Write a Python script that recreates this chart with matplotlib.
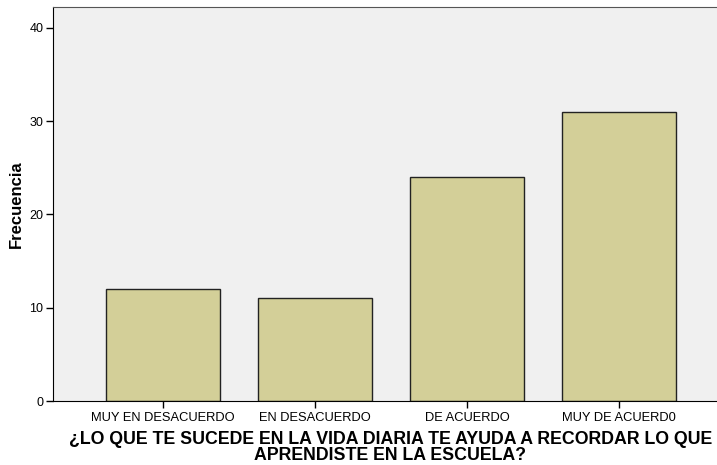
import matplotlib
matplotlib.use("Agg")
import matplotlib.pyplot as plt

categories = ['MUY EN DESACUERDO', 'EN DESACUERDO', 'DE ACUERDO', 'MUY DE ACUERD0']
frecuencia = [12, 11, 24, 31]
yticks = [0, 10, 20, 30, 40]

plt.rcParams['font.family'] = ['Liberation Sans', 'DejaVu Sans']

fig = plt.figure(figsize=(7.17, 4.65), dpi=100)
ax = fig.add_axes([0.0739, 0.1376, 0.9261, 0.848])
ax.set_facecolor('#F0F0F0')

pos = list(range(len(categories)))
ax.bar(pos, frecuencia, width=0.75, color='#D3CF98', edgecolor='#222222', linewidth=1.0, zorder=2)

ax.set_xlim(-0.724, 3.644)
ax.set_ylim(0, 42.25)
ax.set_yticks(yticks)
ax.set_xticks(pos)
ax.set_xticklabels(categories, fontsize=9.3)
ax.tick_params(axis='y', labelsize=9, length=5, width=1, direction='out', pad=2)
ax.tick_params(axis='x', length=5, width=1, direction='out', pad=3)

ax.spines['right'].set_visible(False)
ax.spines['top'].set_color('#555555')
ax.spines['left'].set_color('black')
ax.spines['bottom'].set_color('black')

ax.set_ylabel('Frecuencia', fontsize=12, fontweight='bold')
ax.yaxis.set_label_coords(-0.044, 0.5)
ax.set_xlabel('¿LO QUE TE SUCEDE EN LA VIDA DIARIA TE AYUDA A RECORDAR LO QUE\nAPRENDISTE EN LA ESCUELA?',
              fontsize=12.8, fontweight='bold', linespacing=0.88)
ax.xaxis.set_label_coords(0.508, -0.077)

fig.savefig('out.png', dpi=100)
